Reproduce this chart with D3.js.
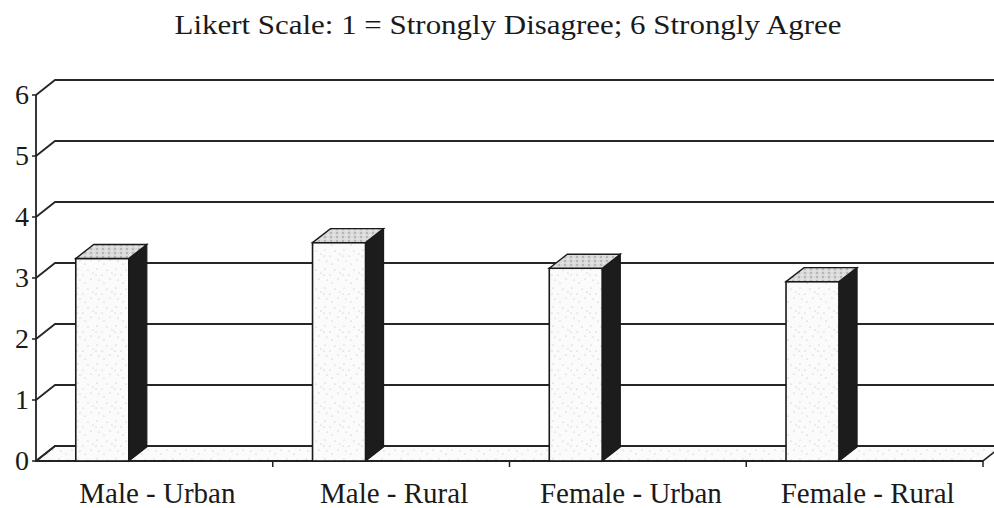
<!DOCTYPE html>
<html>
<head>
<meta charset="utf-8">
<script src="https://cdn.jsdelivr.net/npm/d3@7"></script>
<style>
  body { margin: 0; background: #fff; }
  svg text { font-family: "Liberation Serif", "Times New Roman", serif; fill: #1a1a1a; }
</style>
</head>
<body>
<div id="chart"></div>
<script>
// data
const categories = ["Male - Urban", "Male - Rural", "Female - Urban", "Female - Rural"];
const scores = [3.32, 3.58, 3.16, 2.94];
const yTicks = [0, 1, 2, 3, 4, 5, 6];
const title = "Likert Scale: 1 = Strongly Disagree; 6 Strongly Agree";

const width = 994, height = 508;
const depth = {dx: 19, dy: -15};   // 3d offset of back wall

const svg = d3.select("#chart").append("svg")
    .attr("width", width)
    .attr("height", height);

// stipple texture for bar faces and floor
let defs = svg.append("defs");
let dots = [[2,3],[7,9],[12,4],[4,14],[15,13],[9,17],[17,7],[1,9]];
let pat = defs.append("pattern")
    .attr("id", "stipple")
    .attr("patternUnits", "userSpaceOnUse")
    .attr("width", 19).attr("height", 19);
pat.append("rect").attr("width", 19).attr("height", 19).attr("fill", "#fbfbfb");
pat.selectAll("circle").data(dots).enter().append("circle")
    .attr("cx", d => d[0]).attr("cy", d => d[1]).attr("r", 0.6)
    .attr("fill", "#b5b5b5");

let topPat = defs.append("pattern")
    .attr("id", "stippleTop")
    .attr("patternUnits", "userSpaceOnUse")
    .attr("width", 6).attr("height", 4);
topPat.append("rect").attr("width", 6).attr("height", 4).attr("fill", "#d9d9d9");
topPat.append("circle").attr("cx", 1).attr("cy", 1).attr("r", 0.8).attr("fill", "#8a8a8a");
topPat.append("circle").attr("cx", 4).attr("cy", 3).attr("r", 0.8).attr("fill", "#f4f4f4");

// scales
let x = d3.scaleBand().domain(categories).range([36, 983]).padding(0);
let y = d3.scaleLinear().domain([0, 6]).range([461, 95]);
let backRight = 1010;

// title
svg.append("text")
    .attr("x", 508).attr("y", 34)
    .attr("text-anchor", "middle")
    .attr("font-size", 27)
    .attr("textLength", 667)
    .attr("lengthAdjust", "spacingAndGlyphs")
    .text(title);

// floor
let floor = svg.append("g").attr("class", "floor");
floor.append("path")
    .attr("d", `M36,${y(0)} L983,${y(0)} L${983 + depth.dx},${y(0) + depth.dy} L55,${y(0) + depth.dy} Z`)
    .attr("fill", "url(#stipple)")
    .attr("stroke", "#222").attr("stroke-width", 1.6);

// gridlines on back + left wall
let grid = svg.append("g").attr("class", "grid");
grid.selectAll("path").data(yTicks).enter().append("path")
    .attr("d", d => `M${36},${y(d)} L${36 + depth.dx},${y(d) + depth.dy} L${backRight},${y(d) + depth.dy}`)
    .attr("fill", "none")
    .attr("stroke", "#262626")
    .attr("stroke-width", 1.8);

// y axis
svg.append("line")
    .attr("x1", 36).attr("x2", 36)
    .attr("y1", y(6)).attr("y2", y(0))
    .attr("stroke", "#222").attr("stroke-width", 1.8);

let yAx = svg.append("g").attr("class", "y-axis");
yAx.selectAll("line").data(yTicks).enter().append("line")
    .attr("x1", 32).attr("x2", 36)
    .attr("y1", d => y(d)).attr("y2", d => y(d))
    .attr("stroke", "#222").attr("stroke-width", 1.5);
yAx.selectAll("text").data(yTicks).enter().append("text")
    .attr("x", 29).attr("y", d => y(d) + 9)
    .attr("text-anchor", "end")
    .attr("font-size", 28)
    .text(d => d);

// x axis front edge + ticks
svg.append("line")
    .attr("x1", 36).attr("x2", 983)
    .attr("y1", y(0)).attr("y2", y(0))
    .attr("stroke", "#222").attr("stroke-width", 1.8);

let xAx = svg.append("g").attr("class", "x-axis");
xAx.selectAll("line").data(categories).enter().append("line")
    .attr("x1", d => x(d) + x.bandwidth()).attr("x2", d => x(d) + x.bandwidth())
    .attr("y1", y(0)).attr("y2", y(0) + 6)
    .attr("stroke", "#222").attr("stroke-width", 1.5);
xAx.selectAll("text").data(categories).enter().append("text")
    .attr("x", d => x(d) + x.bandwidth() / 2 + 3)
    .attr("y", 503)
    .attr("text-anchor", "middle")
    .attr("font-size", 29)
    .text(d => d);

// bars
let barW = x.bandwidth() * 0.224;
let barOff = x.bandwidth() * 0.168;
let bd = {dx: 18, dy: -14};

let bars = svg.append("g").attr("class", "bars")
    .selectAll("g").data(categories).enter().append("g");

// front face
bars.append("rect")
    .attr("x", d => x(d) + barOff)
    .attr("y", (d, i) => y(scores[i]))
    .attr("width", barW)
    .attr("height", (d, i) => y(0) - y(scores[i]))
    .attr("fill", "url(#stipple)")
    .attr("stroke", "#1a1a1a").attr("stroke-width", 1.6);

// side face
bars.append("path")
    .attr("d", (d, i) => {
        let x1 = x(d) + barOff + barW, yt = y(scores[i]), yb = y(0);
        return `M${x1},${yt} L${x1 + bd.dx},${yt + bd.dy} L${x1 + bd.dx},${yb + bd.dy} L${x1},${yb} Z`;
    })
    .attr("fill", "#1c1c1c")
    .attr("stroke", "#1a1a1a").attr("stroke-width", 1.2);

// top face
bars.append("path")
    .attr("d", (d, i) => {
        let x0 = x(d) + barOff, x1 = x0 + barW, yt = y(scores[i]);
        return `M${x0},${yt} L${x0 + bd.dx},${yt + bd.dy} L${x1 + bd.dx},${yt + bd.dy} L${x1},${yt} Z`;
    })
    .attr("fill", "url(#stippleTop)")
    .attr("stroke", "#1a1a1a").attr("stroke-width", 1.4);
</script>
</body>
</html>
